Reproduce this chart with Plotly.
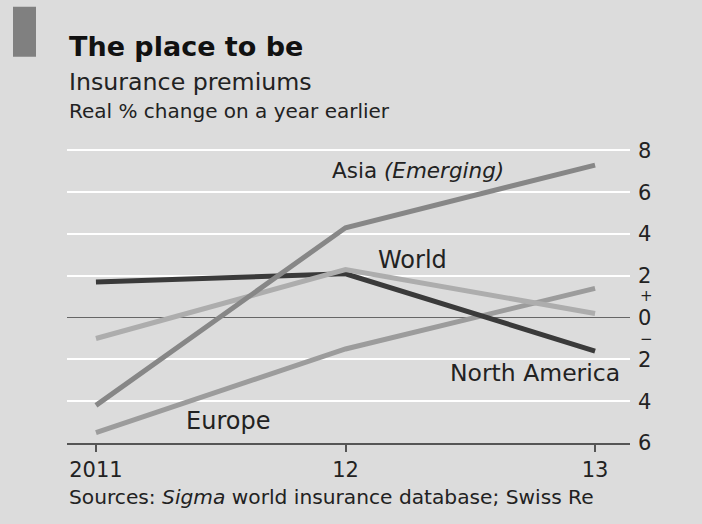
import plotly.graph_objects as go

years = [2011, 2012, 2013]
north_america = [1.7, 2.1, -1.6]
world = [-1.0, 2.3, 0.2]
asia = [-4.2, 4.3, 7.3]
europe = [-5.5, -1.5, 1.4]

y_tickvals = [-6, -4, -2, 0, 2, 4, 6, 8]
y_ticktext = ["6", "4", "2", "0", "2", "4", "6", "8"]
x_tickvals = [2011, 2012, 2013]
x_ticktext = ["2011", "12", "13"]

BG = "#dcdcdc"
FONT = "DejaVu Sans"
TXT = "#222222"

fig = go.Figure()
series = [
    ("Europe", europe, "#9c9c9c", 5),
    ("North America", north_america, "#3a3a3a", 5),
    ("World", world, "#adadad", 5),
    ("Asia", asia, "#878787", 5),
]
for name, vals, col, w in series:
    fig.add_trace(go.Scatter(x=years, y=vals, mode="lines", name=name,
                             line=dict(color=col, width=w), hoverinfo="skip"))

L, R, T, B = 67, 72, 139.5, 81
W, H = 702, 524
pw = W - L - R
ph = H - T - B

def px(x):
    return (x - L) / pw

def py(y):
    return (H - B - y) / ph

fig.update_layout(
    width=W, height=H,
    margin=dict(l=L, r=R, t=T, b=B),
    paper_bgcolor=BG, plot_bgcolor=BG,
    showlegend=False,
    font=dict(family=FONT, color=TXT),
    xaxis=dict(range=[2010.884, 2013.14], tickvals=x_tickvals, ticktext=x_ticktext,
               showgrid=False, zeroline=False, showline=True, linecolor="#555555", linewidth=1.5,
               ticks="outside", ticklen=7, tickcolor="#555555", tickwidth=1.5,
               tickfont=dict(size=21, family=FONT, color=TXT)),
    yaxis=dict(range=[-6, 8.5], tickvals=y_tickvals, ticktext=y_ticktext, side="right",
               showgrid=True, gridcolor="#ffffff", gridwidth=2,
               zeroline=True, zerolinecolor="#666666", zerolinewidth=1.2,
               ticks="", showline=False, ticklabelstandoff=7,
               tickfont=dict(size=21, family=FONT, color=TXT)),
)

anns = [
    dict(x=2011.938, y=7.02, text="Asia <i>(Emerging)</i>", size=21.5),
    dict(x=2012.122, y=2.77, text="World", size=24),
    dict(x=2012.41, y=-2.63, text="North America", size=23.5),
    dict(x=2011.353, y=-4.97, text="Europe", size=24),
]
for a in anns:
    fig.add_annotation(x=a["x"], y=a["y"], text=a["text"], xref="x", yref="y",
                       xanchor="left", yanchor="middle", showarrow=False,
                       font=dict(size=a["size"], family=FONT, color=TXT))

for yv, t in [(1.05, "+"), (-1.0, "−")]:
    fig.add_annotation(x=px(646), y=yv, xref="paper", yref="y", text=t, showarrow=False,
                       xanchor="center", yanchor="middle", font=dict(size=15, family=FONT, color=TXT))

fig.add_annotation(x=0, y=py(46), xref="paper", yref="paper", text="<b>The place to be</b>",
                   showarrow=False, xanchor="left", yanchor="middle",
                   font=dict(size=27, family=FONT, color="#111111"))
fig.add_annotation(x=0, y=py(81), xref="paper", yref="paper", text="Insurance premiums",
                   showarrow=False, xanchor="left", yanchor="middle",
                   font=dict(size=23.7, family=FONT, color=TXT))
fig.add_annotation(x=0, y=py(110), xref="paper", yref="paper", text="Real % change on a year earlier",
                   showarrow=False, xanchor="left", yanchor="middle",
                   font=dict(size=20, family=FONT, color=TXT))
fig.add_annotation(x=0, y=py(497), xref="paper", yref="paper",
                   text="Sources: <i>Sigma</i> world insurance database; Swiss Re",
                   showarrow=False, xanchor="left", yanchor="middle",
                   font=dict(size=20.2, family=FONT, color=TXT))

fig.add_shape(type="rect", xref="paper", yref="paper", x0=px(13), x1=px(36), y0=py(56), y1=py(6),
              fillcolor="#808080", line=dict(width=0), layer="above")

fig.write_html("out.html")
